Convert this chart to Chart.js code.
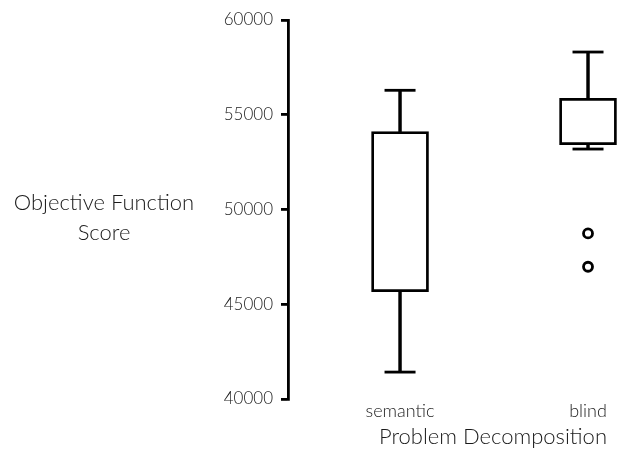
<!DOCTYPE html>
<html>
<head>
<meta charset="utf-8">
<script src="https://cdn.jsdelivr.net/npm/chart.js@4.4.0/dist/chart.umd.min.js"></script>
<style>
  html, body { margin: 0; padding: 0; background: #fff; }
  #wrap { width: 624px; height: 450px; }
</style>
</head>
<body>
<div id="wrap"><canvas id="myChart" width="624" height="450"></canvas></div>
<script>
// values
var categories = ["semantic", "blind"];
var whiskerLow = [41420, 53190];
var q1 = [45660, 53420];
var median = [50890, 55020];
var q3 = [54110, 55870];
var whiskerHigh = [56290, 58310];
var outliers = [[], [48740, 46980]];
var yTicks = [40000, 45000, 50000, 55000, 60000];

var font = { family: "Lato, 'Open Sans', sans-serif", weight: 300 };
var textColor = "#1a1a1a";
var lw = 2.8;

function pts(vals) {
  return vals.map((v, i) => ({ x: i, y: v }));
}

var outlierPts = [];
outliers.forEach((list, i) => list.forEach(v => outlierPts.push({ x: i, y: v })));

// y title drawn horizontally left of the axis
var yTitle = {
  id: "yTitle",
  afterDraw(chart) {
    var ctx = chart.ctx;
    var y = chart.scales.y.getPixelForValue(50000);
    ctx.save();
    ctx.fillStyle = textColor;
    ctx.font = "300 22px " + font.family;
    ctx.textAlign = "center";
    ctx.textBaseline = "middle";
    ctx.fillText("Objective Function", 104, y - 7);
    ctx.fillText("Score", 104, y + 23);
    ctx.restore();
  }
};

var ctx = document.getElementById("myChart").getContext("2d");
var myChart = new Chart(ctx, {
  type: "bar",
  data: {
    datasets: [
      {
        label: "lower whisker",
        data: categories.map((c, i) => ({ x: i, y: [whiskerLow[i], q1[i]] })),
        backgroundColor: "#000",
        borderWidth: 0,
        barThickness: lw,
        grouped: false
      },
      {
        label: "upper whisker",
        data: categories.map((c, i) => ({ x: i, y: [q3[i], whiskerHigh[i]] })),
        backgroundColor: "#000",
        borderWidth: 0,
        barThickness: lw,
        grouped: false
      },
      {
        label: "box",
        data: categories.map((c, i) => ({ x: i, y: [q1[i], q3[i]] })),
        backgroundColor: "#fff",
        borderColor: "#000",
        borderWidth: lw,
        borderSkipped: false,
        barThickness: 57,
        grouped: false
      },
      {
        type: "scatter",
        label: "median",
        data: pts(median),
        pointStyle: "line",
        radius: 27.5,
        borderColor: "#000",
        borderWidth: lw
      },
      {
        type: "scatter",
        label: "caps",
        data: pts(whiskerLow).concat(pts(whiskerHigh)),
        pointStyle: "line",
        radius: 15.5,
        borderColor: "#000",
        borderWidth: lw
      },
      {
        type: "scatter",
        label: "outliers",
        data: outlierPts,
        pointStyle: "circle",
        radius: 4.5,
        backgroundColor: "#fff",
        borderColor: "#000",
        borderWidth: lw
      }
    ]
  },
  options: {
    responsive: false,
    animation: false,
    events: [],
    clip: false,
    layout: { autoPadding: false, padding: { top: 20, right: 17, bottom: 0, left: 0 } },
    plugins: { legend: { display: false }, tooltip: { enabled: false } },
    scales: {
      x: {
        type: "linear",
        offset: false,
        min: -0.596,
        max: 1.101,
        afterBuildTicks: s => { s.ticks = categories.map((c, i) => ({ value: i })); },
        afterFit: s => { s.height = 51; },
        grid: { display: false, drawTicks: false, tickLength: 0 },
        border: { display: false },
        ticks: {
          callback: v => categories[v],
          color: textColor,
          font: Object.assign({ size: 18 }, font),
          padding: 1,
          maxRotation: 0
        },
        title: {
          display: true,
          text: "Problem Decomposition",
          align: "end",
          color: textColor,
          font: Object.assign({ size: 22 }, font),
          padding: { top: 0, bottom: 0 }
        }
      },
      y: {
        min: 40000,
        max: 60000,
        afterBuildTicks: s => { s.ticks = yTicks.map(v => ({ value: v })); },
        afterFit: s => { s.width = 288; },
        grid: {
          drawOnChartArea: false,
          color: "#000",
          lineWidth: lw,
          tickLength: 7,
          tickWidth: lw
        },
        border: { display: true, color: "#000", width: lw },
        ticks: {
          callback: v => String(v),
          color: textColor,
          font: Object.assign({ size: 17 }, font),
          padding: 8
        }
      }
    }
  },
  plugins: [yTitle]
});
</script>
</body>
</html>
